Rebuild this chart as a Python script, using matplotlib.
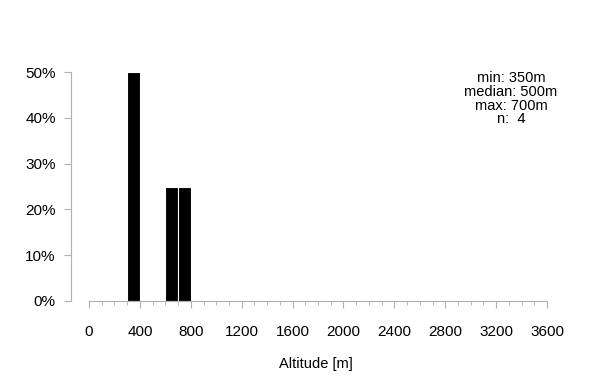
import numpy as np
import matplotlib.pyplot as plt
from matplotlib.ticker import FixedLocator, FuncFormatter

plt.rcParams['font.family'] = ['Liberation Sans', 'DejaVu Sans']

# altitude observations [m]
altitudes = [350, 350, 650, 700]
bin_edges = np.arange(0, 3700, 100)
x_major = np.arange(0, 3700, 400)
y_ticks = [0, 0.1, 0.2, 0.3, 0.4, 0.5]

counts, edges = np.histogram(altitudes, bins=bin_edges)
share = counts / counts.sum()

fig = plt.figure(figsize=(6, 3.9), dpi=100)
ax = fig.add_axes([71/600, (390-301)/390, (560-71)/600, (301-72)/390])

ax.bar(edges[:-1], share, width=100, align='edge', color='black',
       edgecolor='white', linewidth=0.8)

ax.set_xlim(-141.5, 3702)
ax.set_ylim(0, 0.5)

grey = '#b0b0b0'
for s in ['top', 'right']:
    ax.spines[s].set_visible(False)
ax.spines['left'].set_color(grey)
ax.spines['bottom'].set_color(grey)
ax.spines['bottom'].set_bounds(0, 3600)
ax.spines['left'].set_bounds(0, 0.5)

ax.set_xticks(x_major)
ax.xaxis.set_minor_locator(FixedLocator(bin_edges))
ax.set_yticks(y_ticks)
ax.yaxis.set_major_formatter(FuncFormatter(lambda v, p: '{:.0f}%'.format(v*100)))
ax.tick_params(axis='x', which='major', length=5, color=grey, pad=12, labelsize=11)
ax.tick_params(axis='x', which='minor', length=3, color=grey)
ax.tick_params(axis='y', length=5, color=grey, pad=6, labelsize=11)

ax.set_xlabel('Altitude [m]', fontsize=10.5, labelpad=13)

stats = 'min: {}m\nmedian: {:.0f}m\nmax: {}m\nn:  {}'.format(
    min(altitudes), np.median(altitudes), max(altitudes), len(altitudes))
fig.text(511/600, 1 - 71/390, stats, ha='center', va='top', fontsize=10.5,
         linespacing=0.98)

fig.savefig('out.png', dpi=100)
